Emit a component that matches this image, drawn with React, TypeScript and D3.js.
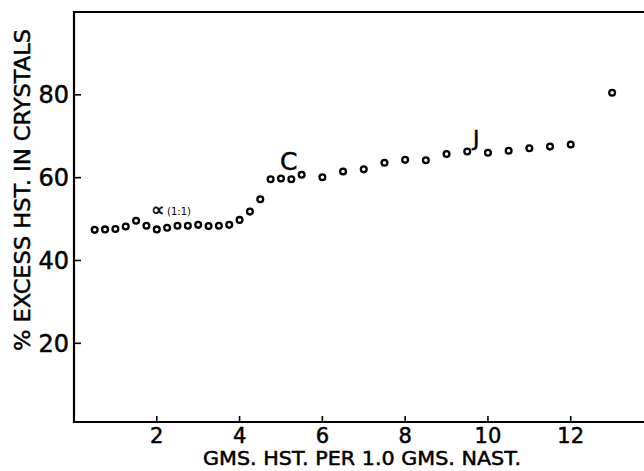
import React from "react";
import * as d3 from "d3";

const xValues = [0.5, 0.75, 1.0, 1.25, 1.5, 1.75, 2.0, 2.25, 2.5, 2.75, 3.0, 3.25, 3.5, 3.75, 4.0, 4.25, 4.5, 4.75, 5.0, 5.25, 5.5, 6.0, 6.5, 7.0, 7.5, 8.0, 8.5, 9.0, 9.5, 10.0, 10.5, 11.0, 11.5, 12.0, 13.0];
const yValues = [47.4, 47.5, 47.6, 48.2, 49.6, 48.4, 47.5, 47.9, 48.4, 48.4, 48.6, 48.3, 48.4, 48.6, 49.8, 51.8, 54.8, 59.6, 59.8, 59.6, 60.7, 60.1, 61.5, 62.0, 63.6, 64.3, 64.2, 65.7, 66.3, 66.0, 66.5, 67.1, 67.5, 68.0, 80.5];
const xTicks = [2, 4, 6, 8, 10, 12];
const yTicks = [20, 40, 60, 80];
const xTitle = "GMS. HST. PER 1.0 GMS. NAST.";
const yTitle = "% EXCESS HST. IN CRYSTALS";

const W = 644;
const H = 471;
const FONT = "'DejaVu Sans', 'Liberation Sans', sans-serif";

export default function App() {
  const x = d3.scaleLinear().domain([0, 13.77]).range([74, 644]);
  const y = d3.scaleLinear().domain([1, 100]).range([422, 12]);
  const points = xValues.map((v, i) => ({ x: v, y: yValues[i] }));
  const txt = { fontFamily: FONT, fill: "#000", stroke: "#000", strokeWidth: 0.5 } as const;

  return (
    <svg width={W} height={H} style={{ position: "absolute", left: 0, top: 0, background: "#fff" }}>
      <rect x={0} y={0} width={W} height={H} fill="#fff" />
      {/* frame */}
      <line x1={x(0)} x2={W} y1={y(100)} y2={y(100)} stroke="#000" strokeWidth={2.2} />
      <line x1={x(0)} x2={W} y1={y(1)} y2={y(1)} stroke="#000" strokeWidth={2.2} />
      <line x1={x(0)} x2={x(0)} y1={y(100) - 1} y2={y(1) + 1} stroke="#000" strokeWidth={2.2} />
      {/* y ticks */}
      {yTicks.map((t) => (
        <g key={"y" + t}>
          <line x1={x(0)} x2={x(0) + 7} y1={y(t)} y2={y(t)} stroke="#000" strokeWidth={1.6} />
          <text x={69} y={y(t)} dy="0.36em" textAnchor="end" fontSize={24} {...txt}>
            {t}
          </text>
        </g>
      ))}
      {/* x ticks */}
      {xTicks.map((t) => (
        <g key={"x" + t}>
          <line x1={x(t)} x2={x(t)} y1={y(1)} y2={y(1) - 6} stroke="#000" strokeWidth={1.6} />
          <text x={x(t)} y={443} textAnchor="middle" fontSize={21} {...txt}>
            {t}
          </text>
        </g>
      ))}
      {/* titles */}
      <text x={362} y={465} textAnchor="middle" fontSize={19} textLength={318} lengthAdjust="spacingAndGlyphs" {...txt}>
        {xTitle}
      </text>
      <text
        transform={`translate(30,190) rotate(-90)`}
        textAnchor="middle"
        fontSize={21}
        textLength={322}
        lengthAdjust="spacingAndGlyphs"
        {...txt}
      >
        {yTitle}
      </text>
      {/* points */}
      {points.map((p, i) => (
        <circle key={i} cx={x(p.x)} cy={y(p.y)} r={2.9} fill="#fff" stroke="#000" strokeWidth={2.3} />
      ))}
      {/* annotations */}
      <text x={151} y={216} fontSize={19} {...txt}>
        ∝
      </text>
      <text x={167} y={215} fontSize={10} fontFamily={FONT} fill="#000">
        (1:1)
      </text>
      <text x={280} y={170} fontSize={25} {...txt}>
        C
      </text>
      <text x={473} y={146} fontSize={22} {...txt}>
        J
      </text>
    </svg>
  );
}
